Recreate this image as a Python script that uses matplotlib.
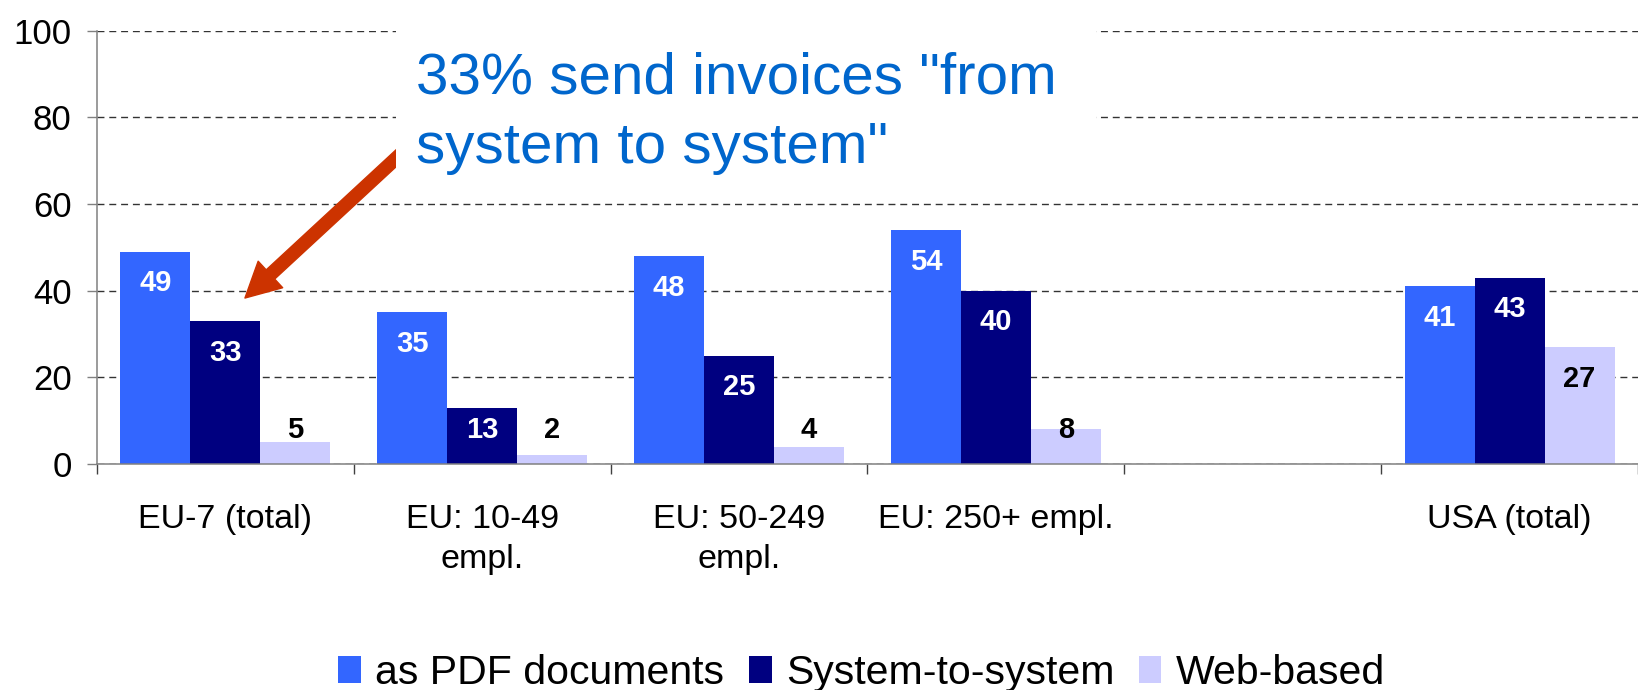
import matplotlib
matplotlib.use("Agg")
import matplotlib.pyplot as plt
from matplotlib.patches import Rectangle
import numpy as np

plt.rcParams['font.family'] = ['Liberation Sans', 'DejaVu Sans']

categories = ["EU-7 (total)", "EU: 10-49\nempl.", "EU: 50-249\nempl.", "EU: 250+ empl.", "", "USA (total)"]
series_names = ["as PDF documents", "System-to-system", "Web-based"]
pdf_vals = [49, 35, 48, 54, np.nan, 41]
s2s_vals = [33, 13, 25, 40, np.nan, 43]
web_vals = [5, 2, 4, 8, np.nan, 27]
yticks = [0, 20, 40, 60, 80, 100]

colors = ["#3366FF", "#000080", "#CCCCFF"]
label_colors = ["white", "white", "black"]

fig = plt.figure(figsize=(16.38, 6.9), dpi=100)
ax = fig.add_axes([97/1638, 1-464/690, 1-97/1638, (464-30.7)/690])

n = len(categories)
x = np.arange(n)
w = 0.2726
offsets = [-w, 0, w]
for vals, off, col, lcol in zip([pdf_vals, s2s_vals, web_vals], offsets, colors, label_colors):
    ax.bar(x + off, vals, width=w, color=col, zorder=3, linewidth=0)
    for xi, v in zip(x, vals):
        if np.isnan(v):
            continue
        ly = max(v - 7.3, 7.8)
        ax.text(xi + off, ly, f"{v:g}", ha='center', va='center', color=lcol,
                fontsize=21, fontweight='bold', zorder=6)

ax.set_xlim(-0.5, n - 0.5)
ax.set_ylim(0, 100)
ax.set_yticks(yticks)
ax.set_yticklabels([str(t) for t in yticks], fontsize=25)
ax.tick_params(axis='y', direction='out', length=7.2, width=1, color='#808080', pad=11)

ax.set_xticks(np.arange(-0.5, n, 1.0))
ax.set_xticklabels([])
ax.tick_params(axis='x', which='major', direction='out', length=7.2, width=1, color='#404040')
ax.set_xticks(x, minor=True)
ax.set_xticklabels(categories, minor=True, fontsize=24.5, linespacing=1.35)
ax.tick_params(axis='x', which='minor', length=0, pad=29)

ax.yaxis.grid(True, linestyle=(0, (5, 3.5)), color='#333333', linewidth=1.0, zorder=1)
ax.set_axisbelow(True)
for s in ['top', 'right']:
    ax.spines[s].set_visible(False)
for s in ['left', 'bottom']:
    ax.spines[s].set_color('#808080')
    ax.spines[s].set_linewidth(1.1)
    ax.spines[s].set_zorder(4)

# annotation: arrow, white box, text
ax.annotate('', xy=(0.076, 38.3), xytext=(0.70, 72.5), xycoords='data', textcoords='data',
            arrowprops=dict(arrowstyle='simple,head_length=25,head_width=26,tail_width=9',
                            color='#CC3300', mutation_scale=1, shrinkA=0, shrinkB=0),
            zorder=7, annotation_clip=False)
box = Rectangle((0.194, 0.644), 0.648 - 0.194, 0.40, transform=ax.transAxes,
                facecolor='white', edgecolor='none', zorder=8, clip_on=False)
ax.add_patch(box)
ax.text(0.207, 0.856, '33% send invoices "from', transform=ax.transAxes, fontsize=42,
        color='#0066CC', ha='left', va='baseline', zorder=9)
ax.text(0.207, 0.695, 'system to system"', transform=ax.transAxes, fontsize=42,
        color='#0066CC', ha='left', va='baseline', zorder=9)

handles = [Rectangle((0, 0), 1, 1, facecolor=c, edgecolor='none') for c in colors]
fig.legend(handles, series_names, loc='center', bbox_to_anchor=(0.526, 0.025), ncol=3,
           frameon=False, fontsize=29.5, handlelength=0.56, handleheight=0.66,
           handletextpad=0.35, columnspacing=0.59, borderpad=0, borderaxespad=0)

fig.savefig("out.png", dpi=100)
